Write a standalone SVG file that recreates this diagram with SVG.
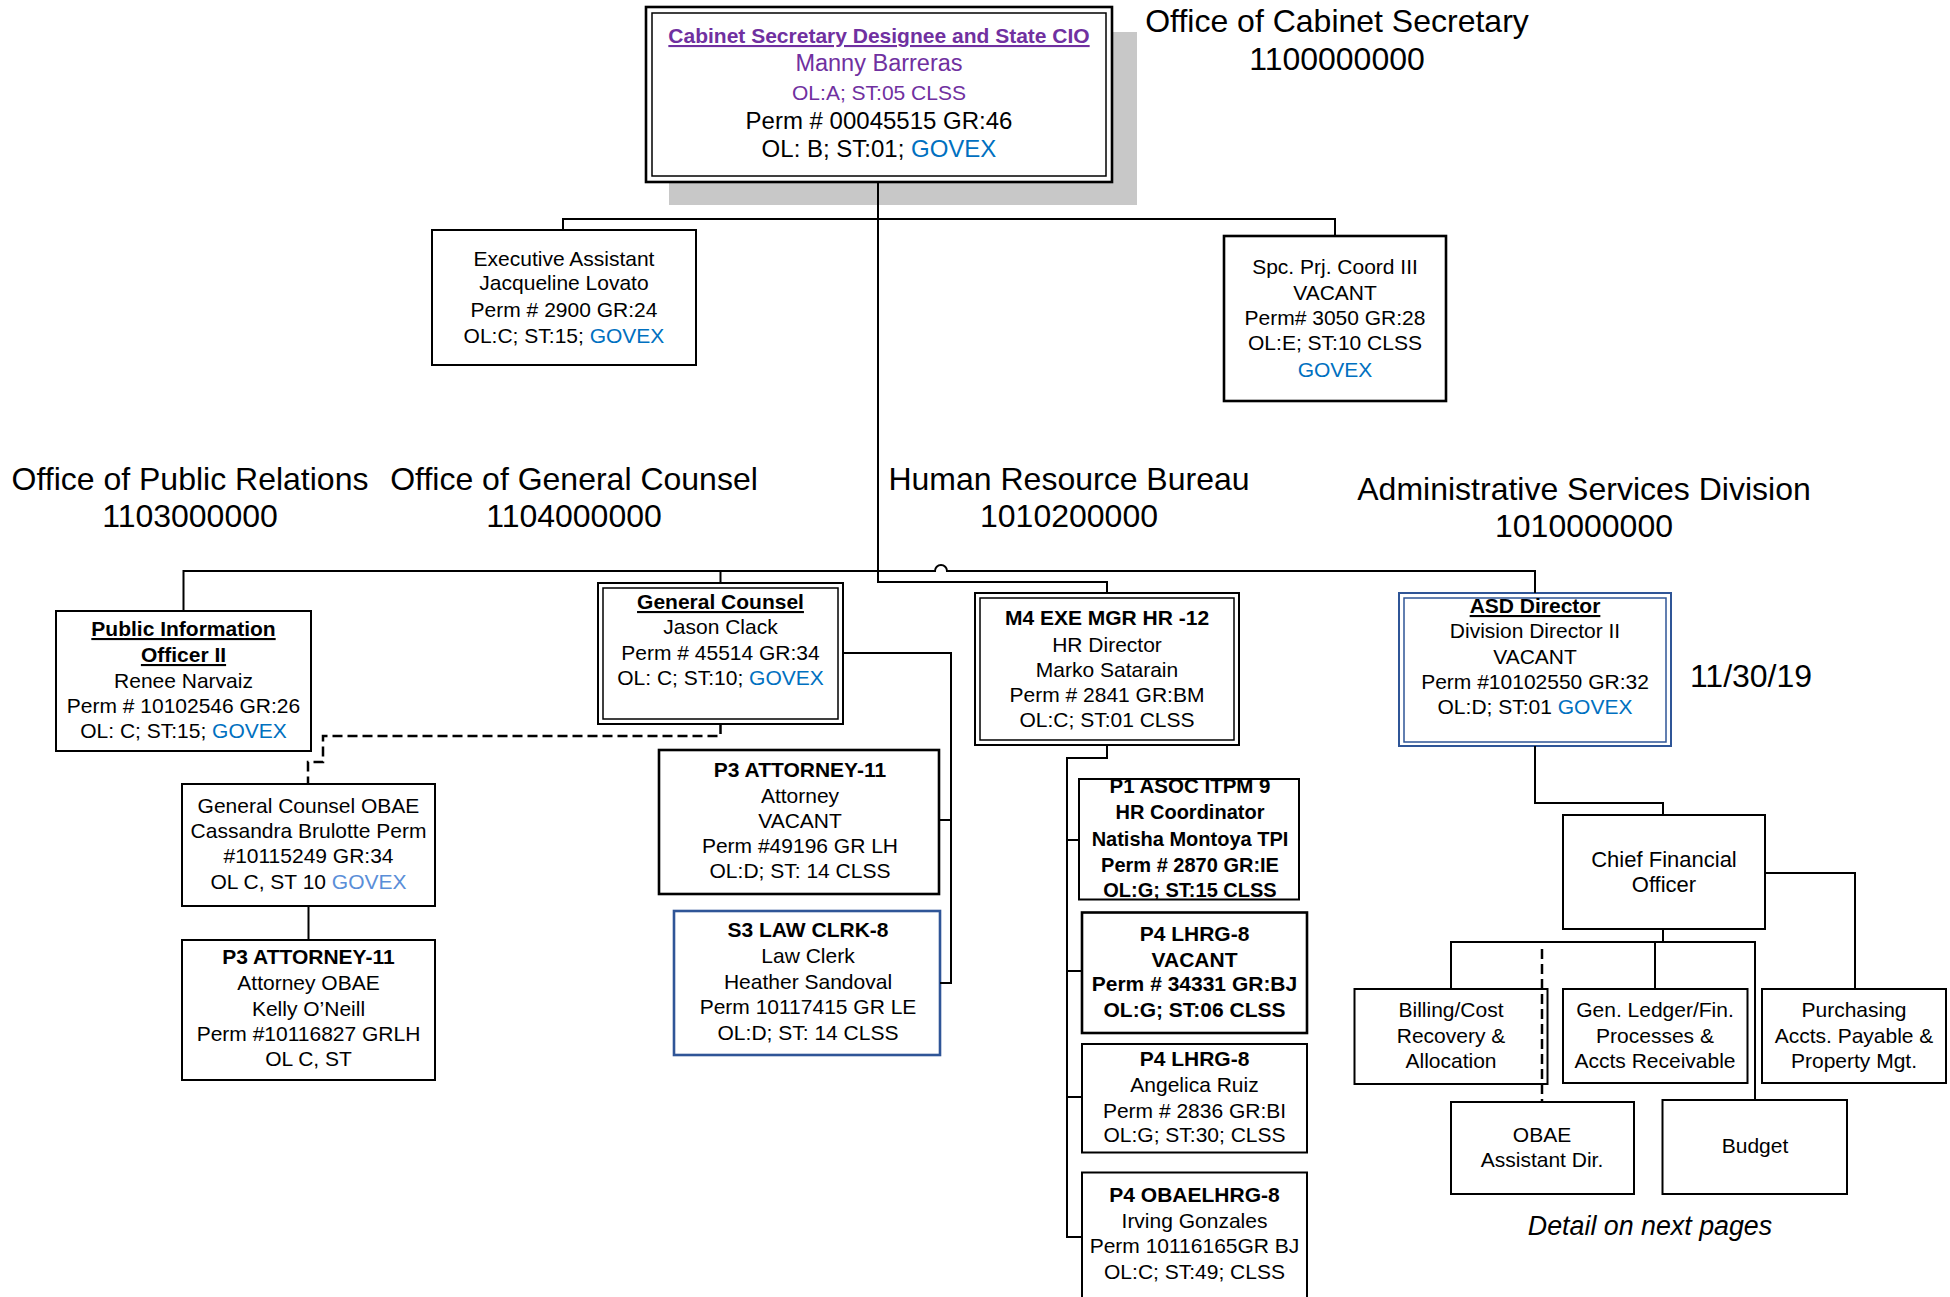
<svg xmlns="http://www.w3.org/2000/svg" width="1950" height="1297" viewBox="0 0 1950 1297">
  <defs>
    <style>
      text { font-family: "Liberation Sans", Arial, Helvetica, sans-serif; fill: #000; }
      .t { font-size: 21px; text-anchor: middle; }
      .h { font-size: 32px; text-anchor: middle; }
      .b { font-weight: bold; }
      .u { text-decoration: underline; }
      .gov { fill: #0070C0; }
      .gov2 { fill: #5A8ED8; }
      .pur { fill: #7030A0; }
      .box { fill: #fff; stroke: #000; stroke-width: 2; }
      .thick { stroke-width: 2.6; }
      .inner { fill: none; stroke: #000; stroke-width: 1.5; }
      .blue { stroke: #2F5597; }
      .ln { fill: none; stroke: #000; stroke-width: 2; }
      .dash { stroke-dasharray: 10 5; stroke-width: 2.5; }
    </style>
    <clipPath id="p1clip">
      <rect x="1079" y="779" width="220" height="120.5"/>
    </clipPath>
  </defs>

  <rect width="1950" height="1297" fill="#fff"/>

  <!-- Unit headings -->
  <g id="headings">
    <text class="h" x="1337" y="32">Office of Cabinet Secretary</text>
    <text class="h" x="1337" y="70">1100000000</text>
    <text class="h" x="190" y="490">Office of Public Relations</text>
    <text class="h" x="190" y="527">1103000000</text>
    <text class="h" x="574" y="490">Office of General Counsel</text>
    <text class="h" x="574" y="527">1104000000</text>
    <text class="h" x="1069" y="490">Human Resource Bureau</text>
    <text class="h" x="1069" y="527">1010200000</text>
    <text class="h" x="1584" y="500">Administrative Services Division</text>
    <text class="h" x="1584" y="537">1010000000</text>
    <text class="h" x="1751" y="687">11/30/19</text>
    <text x="1650" y="1235" style="font-size:26.8px;font-style:italic;text-anchor:middle">Detail on next pages</text>
  </g>

  <!-- Cabinet Secretary -->
  <g id="n-cabinet">
    <rect x="669" y="32" width="468" height="173" fill="#c8c8c8"/>
    <rect class="box thick" x="646" y="7" width="466" height="175"/>
    <rect class="inner" x="652" y="13" width="454" height="163"/>
    <text class="t b u pur" x="879" y="43">Cabinet Secretary Designee and State CIO</text>
    <text class="t pur" x="879" y="71" style="font-size:23.5px">Manny Barreras</text>
    <text class="t pur" x="879" y="100" style="font-size:21px">OL:A; ST:05 CLSS</text>
    <text class="t" x="879" y="129" style="font-size:24px">Perm # 00045515 GR:46</text>
    <text class="t" x="879" y="157" style="font-size:24px">OL: B; ST:01; <tspan class="gov">GOVEX</tspan></text>
  </g>

  <g id="n-exec-asst">
    <rect class="box" x="432" y="230" width="264" height="135"/>
    <text class="t" x="564" y="266">Executive Assistant</text>
    <text class="t" x="564" y="290">Jacqueline Lovato</text>
    <text class="t" x="564" y="317">Perm # 2900 GR:24</text>
    <text class="t" x="564" y="343">OL:C; ST:15; <tspan class="gov">GOVEX</tspan></text>
  </g>

  <g id="n-spc-prj">
    <rect class="box thick" x="1224" y="236" width="222" height="165"/>
    <text class="t" x="1335" y="274">Spc. Prj. Coord III</text>
    <text class="t" x="1335" y="300">VACANT</text>
    <text class="t" x="1335" y="325">Perm# 3050 GR:28</text>
    <text class="t" x="1335" y="350">OL:E; ST:10 CLSS</text>
    <text class="t gov" x="1335" y="377">GOVEX</text>
  </g>

  <g id="n-pio">
    <rect class="box" x="56" y="611" width="255" height="140"/>
    <text class="t b u" x="183.5" y="636">Public Information</text>
    <text class="t b u" x="183.5" y="662">Officer II</text>
    <text class="t" x="183.5" y="688">Renee Narvaiz</text>
    <text class="t" x="183.5" y="713">Perm # 10102546 GR:26</text>
    <text class="t" x="183.5" y="738">OL: C; ST:15; <tspan class="gov">GOVEX</tspan></text>
  </g>

  <g id="n-gc">
    <rect class="box" x="598" y="583" width="245" height="141"/>
    <rect class="inner" x="603" y="588" width="235" height="131"/>
    <text class="t b u" x="720.5" y="609">General Counsel</text>
    <text class="t" x="720.5" y="634">Jason Clack</text>
    <text class="t" x="720.5" y="660">Perm # 45514 GR:34</text>
    <text class="t" x="720.5" y="685">OL: C; ST:10; <tspan class="gov">GOVEX</tspan></text>
  </g>

  <g id="n-gc-obae">
    <rect class="box" x="182" y="784" width="253" height="122"/>
    <text class="t" x="308.5" y="813">General Counsel OBAE</text>
    <text class="t" x="308.5" y="838">Cassandra Brulotte Perm</text>
    <text class="t" x="308.5" y="863">#10115249 GR:34</text>
    <text class="t" x="308.5" y="889">OL C, ST 10 <tspan class="gov2">GOVEX</tspan></text>
  </g>

  <g id="n-p3-obae">
    <rect class="box" x="182" y="940" width="253" height="140"/>
    <text class="t b" x="308.5" y="964">P3 ATTORNEY-11</text>
    <text class="t" x="308.5" y="990">Attorney OBAE</text>
    <text class="t" x="308.5" y="1016">Kelly O’Neill</text>
    <text class="t" x="308.5" y="1041">Perm #10116827 GRLH</text>
    <text class="t" x="308.5" y="1066">OL C, ST</text>
  </g>

  <g id="n-p3-att">
    <rect class="box thick" x="659" y="750" width="280" height="144"/>
    <text class="t b" x="800" y="777">P3 ATTORNEY-11</text>
    <text class="t" x="800" y="803">Attorney</text>
    <text class="t" x="800" y="828">VACANT</text>
    <text class="t" x="800" y="853">Perm #49196 GR LH</text>
    <text class="t" x="800" y="878">OL:D; ST: 14 CLSS</text>
  </g>

  <g id="n-s3-law-clerk">
    <rect class="box thick blue" x="674" y="911" width="266" height="144"/>
    <text class="t b" x="808" y="937">S3 LAW CLRK-8</text>
    <text class="t" x="808" y="963">Law Clerk</text>
    <text class="t" x="808" y="989">Heather Sandoval</text>
    <text class="t" x="808" y="1014">Perm 10117415 GR LE</text>
    <text class="t" x="808" y="1040">OL:D; ST: 14 CLSS</text>
  </g>

  <g id="n-hr">
    <rect class="box" x="975" y="593" width="264" height="152"/>
    <rect class="inner" x="980" y="598" width="254" height="142"/>
    <text class="t b" x="1107" y="625">M4 EXE MGR HR -12</text>
    <text class="t" x="1107" y="652">HR Director</text>
    <text class="t" x="1107" y="677">Marko Satarain</text>
    <text class="t" x="1107" y="702">Perm # 2841 GR:BM</text>
    <text class="t" x="1107" y="727">OL:C; ST:01 CLSS</text>
  </g>

  <g id="n-p1-asoc">
    <rect x="1079" y="779" width="220" height="120.5" fill="#fff"/>
    <g clip-path="url(#p1clip)">
      <text class="t b" x="1190" y="793" style="font-size:20.5px">P1 ASOC ITPM 9</text>
      <text class="t b" x="1190" y="818.5" style="font-size:20px">HR Coordinator</text>
      <text class="t b" x="1190" y="846" style="font-size:20px">Natisha Montoya TPI</text>
      <text class="t b" x="1190" y="872" style="font-size:20px">Perm # 2870 GR:IE</text>
      <text class="t b" x="1190" y="897" style="font-size:20px">OL:G; ST:15 CLSS</text>
    </g>
    <rect x="1079" y="779" width="220" height="120.5" fill="none" stroke="#000" stroke-width="2"/>
  </g>

  <g id="n-p4-vacant">
    <rect class="box thick" x="1082" y="912.5" width="225" height="120.5"/>
    <text class="t b" x="1194.5" y="941">P4 LHRG-8</text>
    <text class="t b" x="1194.5" y="966.5">VACANT</text>
    <text class="t b" x="1194.5" y="991">Perm # 34331 GR:BJ</text>
    <text class="t b" x="1194.5" y="1016.5">OL:G; ST:06 CLSS</text>
  </g>

  <g id="n-p4-ruiz">
    <rect class="box" x="1082" y="1044" width="225" height="108.5"/>
    <text class="t b" x="1194.5" y="1066">P4 LHRG-8</text>
    <text class="t" x="1194.5" y="1092">Angelica Ruiz</text>
    <text class="t" x="1194.5" y="1118">Perm # 2836 GR:BI</text>
    <text class="t" x="1194.5" y="1142">OL:G; ST:30; CLSS</text>
  </g>

  <g id="n-p4-obae">
    <rect class="box" x="1082" y="1172.5" width="225" height="140"/>
    <text class="t b" x="1194.5" y="1202">P4 OBAELHRG-8</text>
    <text class="t" x="1194.5" y="1228">Irving Gonzales</text>
    <text class="t" x="1194.5" y="1253">Perm 10116165GR BJ</text>
    <text class="t" x="1194.5" y="1279">OL:C; ST:49; CLSS</text>
  </g>

  <g id="n-asd">
    <rect class="box blue" x="1399" y="593" width="272" height="153"/>
    <rect class="inner blue" x="1404" y="598" width="262" height="144"/>
    <text class="t b u" x="1535" y="613">ASD Director</text>
    <text class="t" x="1535" y="638">Division Director II</text>
    <text class="t" x="1535" y="664">VACANT</text>
    <text class="t" x="1535" y="689">Perm #10102550 GR:32</text>
    <text class="t" x="1535" y="714">OL:D; ST:01 <tspan class="gov">GOVEX</tspan></text>
  </g>

  <g id="n-cfo">
    <rect class="box" x="1563" y="815" width="202" height="114"/>
    <text class="t" x="1664" y="867" style="font-size:22px">Chief Financial</text>
    <text class="t" x="1664" y="892" style="font-size:22px">Officer</text>
  </g>

  <g id="n-billing">
    <rect class="box" x="1354.5" y="989" width="193" height="95"/>
    <text class="t" x="1451" y="1017">Billing/Cost</text>
    <text class="t" x="1451" y="1043">Recovery &amp;</text>
    <text class="t" x="1451" y="1068">Allocation</text>
  </g>

  <g id="n-gen-ledger">
    <rect class="box" x="1563" y="989" width="184.5" height="94"/>
    <text class="t" x="1655" y="1017">Gen. Ledger/Fin.</text>
    <text class="t" x="1655" y="1043">Processes &amp;</text>
    <text class="t" x="1655" y="1068">Accts Receivable</text>
  </g>

  <g id="n-purchasing">
    <rect class="box" x="1762" y="989" width="184" height="94"/>
    <text class="t" x="1854" y="1017">Purchasing</text>
    <text class="t" x="1854" y="1043">Accts. Payable &amp;</text>
    <text class="t" x="1854" y="1068">Property Mgt.</text>
  </g>

  <g id="n-obae-asst">
    <rect class="box" x="1451" y="1102" width="183" height="92"/>
    <text class="t" x="1542" y="1142">OBAE</text>
    <text class="t" x="1542" y="1167">Assistant Dir.</text>
  </g>

  <g id="n-budget">
    <rect class="box" x="1662.5" y="1100" width="184.5" height="94"/>
    <text class="t" x="1755" y="1153">Budget</text>
  </g>

  <!-- Connectors (drawn last so the dotted line shows across the billing box) -->
  <g id="connectors">
    <path class="ln" d="M878,182 V582 H1107 V593"/>
    <path class="ln" d="M563,230 V219 H1335 V236"/>
    <path class="ln" d="M183.5,611 V571 H935 A6,6 0 0 1 947,571 H1535 V593"/>
    <path class="ln" d="M720.5,571 V583"/>
    <path class="ln" d="M843,653 H951 V983 H940 M951,820 H939"/>
    <path class="ln dash" d="M720.5,724 V736 H323 V762 H308 V784"/>
    <path class="ln" d="M308.5,906 V940"/>
    <path class="ln" d="M1107,745 V758 H1067 V1237 H1082 M1067,840 H1079 M1067,971 H1082 M1067,1097 H1082"/>
    <path class="ln" d="M1535,746 V803 H1663 V815"/>
    <path class="ln" d="M1765,873 H1855 V989"/>
    <path class="ln" d="M1663,929 V942 M1451,989 V942 H1755 V1100 M1655,942 V989"/>
    <path class="ln dash" d="M1542,949 V1102"/>
  </g>
</svg>
